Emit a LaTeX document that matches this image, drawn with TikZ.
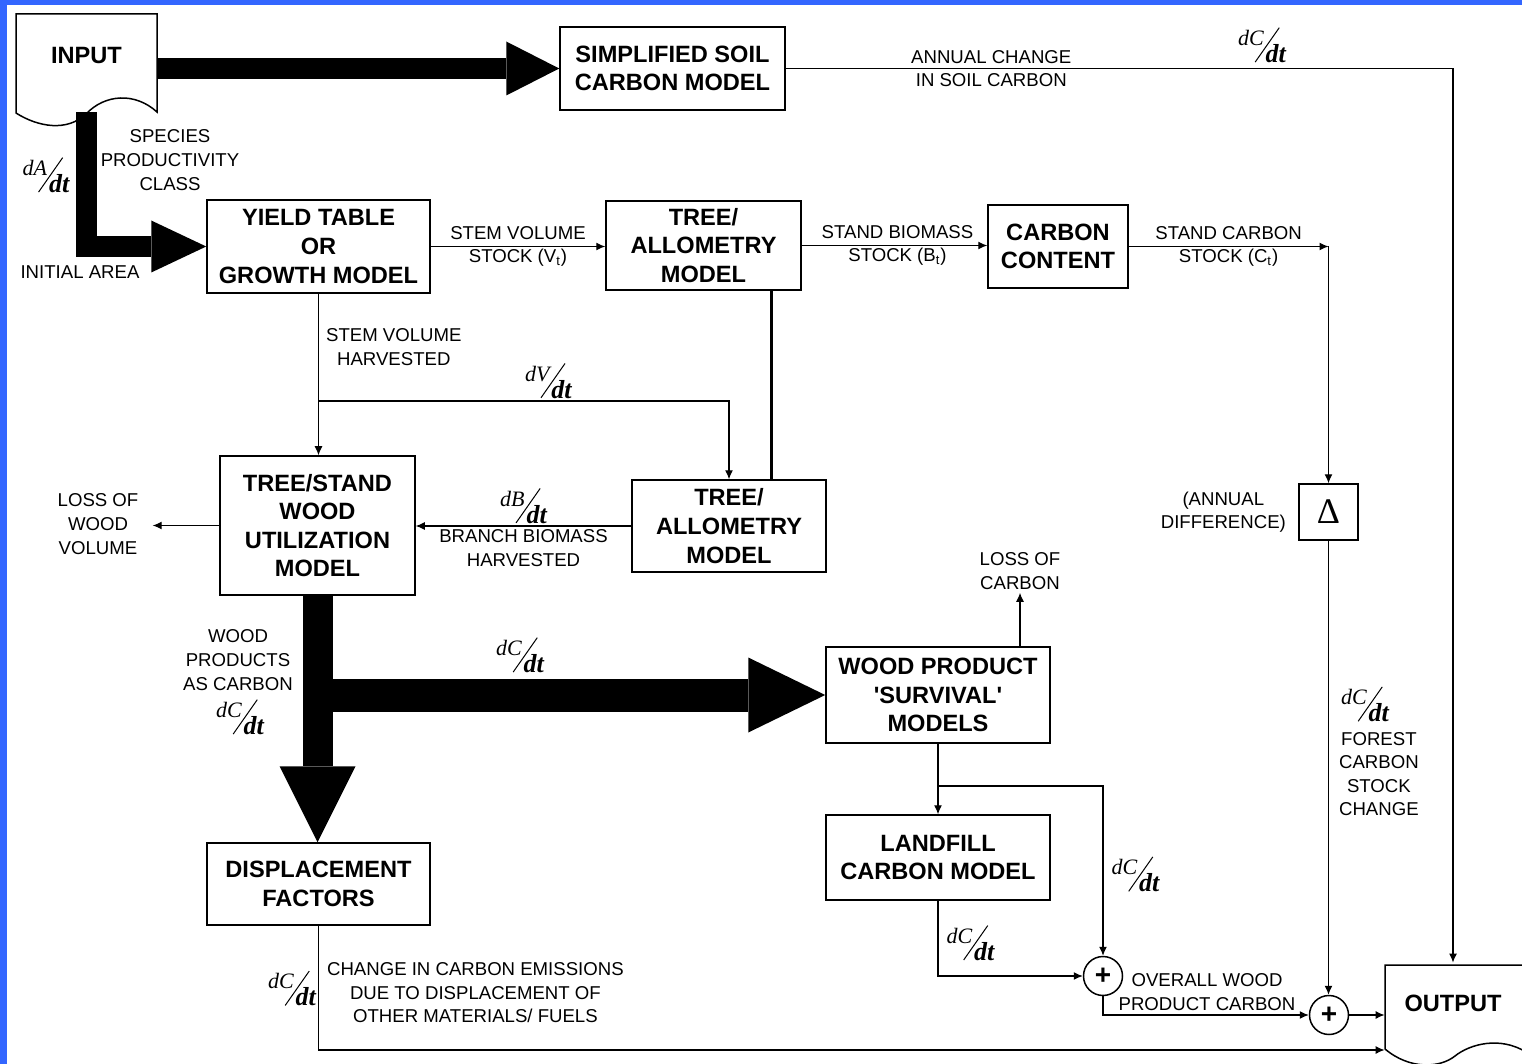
\documentclass[tikz,border=0pt]{standalone}
\usepackage{fontspec}
\setmainfont{Liberation Sans}
\newfontfamily\ratefont{Liberation Serif}
\usepackage{graphicx}
\usetikzlibrary{positioning, arrows.meta}

\definecolor{frameblue}{RGB}{51,102,255}
\newcommand{\rate}[1]{\mbox{\ratefont\fontsize{11}{11}\selectfont%
  \raisebox{5.5pt}{\itshape d#1}\kern-4.5pt%
  \raisebox{-3pt}{\rotatebox{55}{\rule{21pt}{0.5pt}}}\kern-7pt%
  \raisebox{-3pt}{\fontsize{13}{13}\selectfont\bfseries\itshape dt}}}

\tikzset{
  model/.style={draw, line width=0.75pt, fill=white, align=center, inner sep=0pt,
    font=\fontsize{11.8}{14.3}\selectfont\bfseries},
  lbl/.style={align=center, inner sep=1.5pt, font=\fontsize{9.3}{11.8}\selectfont},
  ratelbl/.style={inner sep=1pt},
  sumnode/.style={circle, draw, line width=0.75pt, fill=white, minimum size=19.5pt,
    inner sep=0pt, font=\fontsize{14}{14}\selectfont\bfseries},
  flow/.style={draw, line width=0.6pt, -{Latex[length=4.5pt,width=4pt]}},
  fatarrow/.style n args={3}{line width=#1, -{Triangle[length=#2,width=#3,line width=0pt]}},
  docline/.style={line width=0.75pt}
}

\begin{document}
\begin{tikzpicture}[x=0.5pt, y=-0.5pt]
\useasboundingbox (0,0) rectangle (1522,1064);
\fill[frameblue] (0,0) rectangle (7,1064);
\fill[frameblue] (0,0) rectangle (1522,5);

\draw[docline, fill=white] (16,14) -- (157,14) -- (157,112)
  .. controls (135,92) and (105,94) .. (86,114)
  .. controls (67,132) and (38,127) .. (16,113) -- cycle;
\draw[docline, fill=white] (1385,1049) -- (1385,965) -- (1530,965) -- (1530,1064)
  -- (1526,1052) .. controls (1500,1036) and (1470,1044) .. (1455,1056)
  .. controls (1440,1068) and (1410,1070) .. (1385,1049);

\node[inner sep=0pt, minimum width=70.5pt, minimum height=42pt,
  font=\fontsize{11.8}{14.3}\selectfont\bfseries] (input) at (86.5,56) {INPUT};
\node[inner sep=0pt, minimum width=68pt, minimum height=40pt,
  font=\fontsize{11.8}{14.3}\selectfont\bfseries] (output) at (1453,1003) {OUTPUT};

\node[model, minimum width=112.5pt, minimum height=41.5pt] (soil) at (672.5,68.5) {SIMPLIFIED SOIL\\CARBON MODEL};
\node[model, minimum width=111.5pt, minimum height=46.5pt] (yield) at (318.5,246.5) {YIELD TABLE\\OR\\GROWTH MODEL};
\node[model, minimum width=97.5pt, minimum height=44.5pt] (allo1) at (703.5,245.5) {TREE/\\ALLOMETRY\\MODEL};
\node[model, minimum width=70pt, minimum height=41.5pt] (carbon) at (1058,246.5) {CARBON\\CONTENT};
\node[model, minimum width=97.5pt, minimum height=69.5pt] (util) at (317.5,525.5) {TREE/STAND\\WOOD\\UTILIZATION\\MODEL};
\node[model, minimum width=97pt, minimum height=46pt] (allo2) at (729,526) {TREE/\\ALLOMETRY\\MODEL};
\node[model, minimum width=112pt, minimum height=48pt] (survival) at (938,695) {WOOD PRODUCT\\\textquotesingle SURVIVAL\textquotesingle\\MODELS};
\node[model, minimum width=112pt, minimum height=42.5pt] (landfill) at (938,857.5) {LANDFILL\\CARBON MODEL};
\node[model, minimum width=111.5pt, minimum height=41pt] (disp) at (318.5,884) {DISPLACEMENT\\FACTORS};
\node[model, minimum width=29.5pt, minimum height=28pt, font=\ratefont\fontsize{18}{18}\selectfont] (delta) at (1328.5,512) {Δ};
\node[sumnode] (plus1) at (1103,976) {+};
\node[sumnode] (plus2) at (1329,1015) {+};

\node[lbl] (species) at (170,160) {SPECIES\\PRODUCTIVITY\\CLASS};
\node[lbl] (initarea) at (80,272) {INITIAL AREA};
\node[ratelbl] (rateA) at (46,175) {\rate{A}};
\node[ratelbl] (ratesoil) at (1262,45) {\rate{C}};
\node[lbl] (lossw) at (98,524) {LOSS OF\\WOOD\\VOLUME};
\node[lbl] (woodprod) at (238,660) {WOOD\\PRODUCTS\\AS CARBON};
\node[ratelbl] (ratewp) at (240,717) {\rate{C}};
\node[ratelbl] (ratesurv) at (520,655) {\rate{C}};
\node[lbl] (losscarbon) at (1020,571) {LOSS OF\\CARBON};
\node[lbl, left=4.5pt of delta] (anndiff) {(ANNUAL\\DIFFERENCE)};
\node[lbl] (overall) at (1207,992) {OVERALL WOOD\\PRODUCT CARBON};

\draw[fatarrow={10.5pt}{26.5pt}{27pt}] (soil.west -| input.east) -- (soil.west);
\draw[fatarrow={10.5pt}{27.5pt}{26pt}] ([yshift=-7pt]input.south) |- (yield.west);
\draw[fatarrow={15pt}{38pt}{38pt}] (util.south) -- (util.south |- disp.north);
\draw[fatarrow={16.5pt}{38.5pt}{37.5pt}] (util.south |- survival.west) -- (survival.west);

\draw[flow] (soil.east) -| (output.north) node[lbl, pos=0.154] {ANNUAL CHANGE\\IN SOIL CARBON};
\draw[flow] (yield.east) -- node[lbl] {STEM VOLUME\\STOCK (V\textsubscript{t})} (yield.east -| allo1.west);
\draw[flow] (allo1.east) -- node[lbl, xshift=1.5pt] {STAND BIOMASS\\STOCK (B\textsubscript{t})} (allo1.east -| carbon.west);
\coordinate (c1) at (delta.north |- carbon.east);
\draw[flow] (carbon.east) -- node[lbl] {STAND CARBON\\STOCK (C\textsubscript{t})} (c1);
\draw[flow] (c1) -- (delta.north);

\draw[flow] (yield.south) -- (yield.south |- util.north) node[lbl, right, pos=0.33, xshift=2pt] {STEM VOLUME\\HARVESTED};
\coordinate (b1) at (318.5,401);
\draw[flow] (b1) -| (allo2.north) node[ratelbl, above, pos=0.28] {\rate{V}};
\draw[line width=1.5pt] ([xshift=33.75pt]allo1.south) -- ([xshift=33.75pt]allo1.south |- allo2.north);
\draw[flow] (allo2.west) -- (allo2.west -| util.east)
  node[ratelbl, midway, above] {\rate{B}}
  node[lbl, midway, below] {BRANCH BIOMASS\\HARVESTED};
\draw[flow] (util.west) -- ([xshift=5.5pt]lossw.east |- util.west);

\draw[flow] (survival.north -| losscarbon.south) -- (losscarbon.south);
\draw[flow] (survival.south) -- (landfill.north);
\coordinate (b2) at (938,786);
\draw[flow] (b2) -| (plus1.north) node[ratelbl, right, pos=0.76, xshift=3pt] {\rate{C}};
\draw[flow] (landfill.south) |- (plus1.west) node[ratelbl, right, pos=0.28, xshift=3pt] {\rate{C}};
\draw[flow] (plus1.south) |- (plus2.west);
\draw[flow] (delta.south) -- (delta.south |- plus2.north)
  node[ratelbl, right, pos=0.36, xshift=5pt] {\rate{C}}
  node[lbl, right, pos=0.514, xshift=3.5pt] {FOREST\\CARBON\\STOCK\\CHANGE};
\draw[flow] (plus2.east) -- (plus2.east -| output.west);
\draw[flow] (disp.south) |- ([yshift=-23.5pt]output.west)
  node[ratelbl, left, pos=0.252] {\rate{C}}
  node[lbl, right, pos=0.27, xshift=2.5pt] {CHANGE IN CARBON EMISSIONS\\DUE TO DISPLACEMENT OF\\OTHER MATERIALS/ FUELS};
\end{tikzpicture}
\end{document}
